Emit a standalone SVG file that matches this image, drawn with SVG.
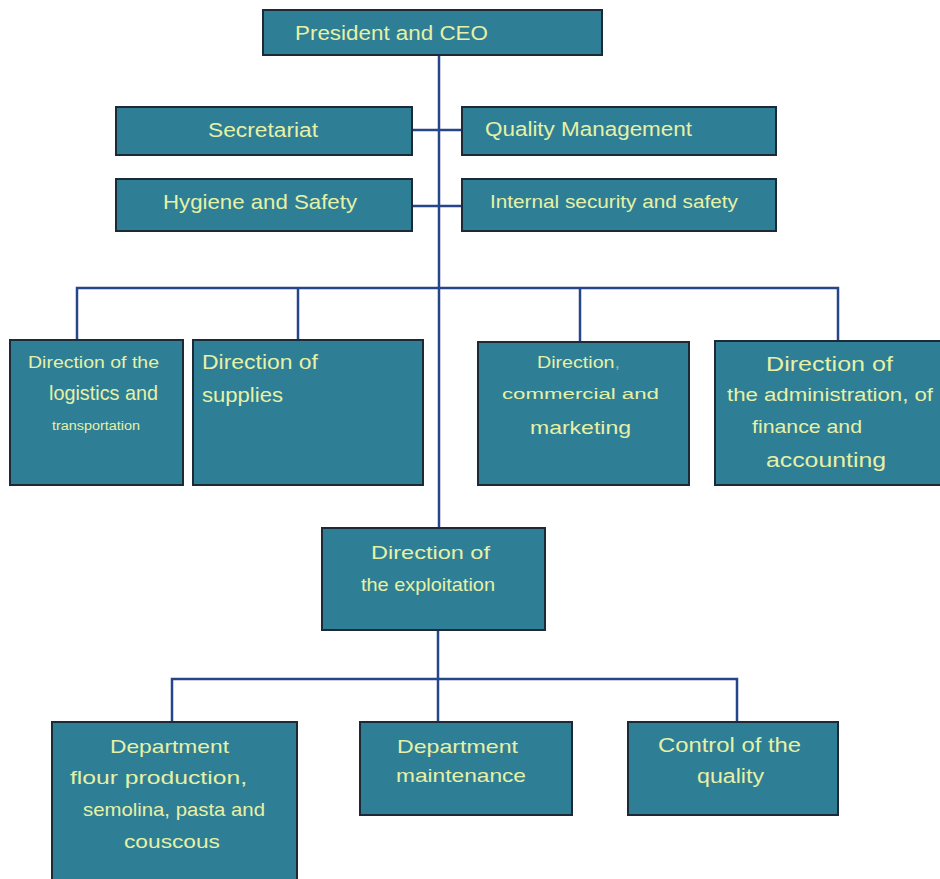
<svg xmlns="http://www.w3.org/2000/svg" width="940" height="879" viewBox="0 0 940 879">
  <style>
    .box { fill: #2e7e96; stroke: #1c2a38; stroke-width: 2; }
    .lbl { font-family: "Liberation Sans", Arial, sans-serif; fill: #e6f1a6; }
    .link { fill: none; stroke: #26468a; stroke-width: 2.5; }
  </style>
  <rect width="940" height="879" fill="#ffffff"/>

  <!-- connectors -->
  <g id="connectors">
    <path class="link" d="M439 55 V528"/>
    <path class="link" d="M412 130 H462"/>
    <path class="link" d="M412 206 H462"/>
    <path class="link" d="M77 340 V288 H838 V341"/>
    <path class="link" d="M298 288 V340"/>
    <path class="link" d="M580 288 V342"/>
    <path class="link" d="M438 630 V722"/>
    <path class="link" d="M172 722 V679 H737 V722"/>
  </g>

  <g id="ceo">
    <rect class="box" x="263" y="10" width="339" height="45"/>
    <text class="lbl" x="295" y="40" font-size="20" textLength="193" lengthAdjust="spacingAndGlyphs">President and CEO</text>
  </g>

  <g id="secretariat">
    <rect class="box" x="116" y="107" width="296" height="48"/>
    <text class="lbl" x="208" y="137" font-size="20" textLength="110" lengthAdjust="spacingAndGlyphs">Secretariat</text>
  </g>

  <g id="quality-management">
    <rect class="box" x="462" y="107" width="314" height="48"/>
    <text class="lbl" x="485" y="136" font-size="20" textLength="207" lengthAdjust="spacingAndGlyphs">Quality Management</text>
  </g>

  <g id="hygiene-safety">
    <rect class="box" x="116" y="179" width="296" height="52"/>
    <text class="lbl" x="163" y="209" font-size="21" textLength="194" lengthAdjust="spacingAndGlyphs">Hygiene and Safety</text>
  </g>

  <g id="internal-security">
    <rect class="box" x="462" y="179" width="314" height="52"/>
    <text class="lbl" x="490" y="208" font-size="18" textLength="248" lengthAdjust="spacingAndGlyphs">Internal security and safety</text>
  </g>

  <g id="dir-logistics">
    <rect class="box" x="10" y="340" width="173" height="145"/>
    <text class="lbl" x="28" y="368" font-size="17" textLength="131" lengthAdjust="spacingAndGlyphs">Direction of the</text>
    <text class="lbl" x="49" y="400" font-size="21" textLength="109" lengthAdjust="spacingAndGlyphs">logistics and</text>
    <text class="lbl" x="52" y="430" font-size="12" textLength="88" lengthAdjust="spacingAndGlyphs">transportation</text>
  </g>

  <g id="dir-supplies">
    <rect class="box" x="193" y="340" width="230" height="145"/>
    <text class="lbl" x="202" y="369" font-size="20" textLength="116" lengthAdjust="spacingAndGlyphs">Direction of</text>
    <text class="lbl" x="202" y="402" font-size="20" textLength="81" lengthAdjust="spacingAndGlyphs">supplies</text>
  </g>

  <g id="dir-commercial">
    <rect class="box" x="478" y="342" width="211" height="143"/>
    <text class="lbl" x="537" y="368" font-size="16" textLength="83" lengthAdjust="spacingAndGlyphs">Direction<tspan fill="#9fb6a0">,</tspan></text>
    <text class="lbl" x="502" y="399" font-size="14" textLength="157" lengthAdjust="spacingAndGlyphs">commercial and</text>
    <text class="lbl" x="530" y="434" font-size="19" textLength="101" lengthAdjust="spacingAndGlyphs">marketing</text>
  </g>

  <g id="dir-administration">
    <rect class="box" x="715" y="341" width="226" height="144"/>
    <text class="lbl" x="766" y="371" font-size="21" textLength="127" lengthAdjust="spacingAndGlyphs">Direction of</text>
    <text class="lbl" x="727" y="401" font-size="18" textLength="206" lengthAdjust="spacingAndGlyphs">the administration, of</text>
    <text class="lbl" x="752" y="433" font-size="19" textLength="110" lengthAdjust="spacingAndGlyphs">finance and</text>
    <text class="lbl" x="766" y="467" font-size="20" textLength="120" lengthAdjust="spacingAndGlyphs">accounting</text>
  </g>

  <g id="dir-exploitation">
    <rect class="box" x="322" y="528" width="223" height="102"/>
    <text class="lbl" x="371" y="559" font-size="19" textLength="119" lengthAdjust="spacingAndGlyphs">Direction of</text>
    <text class="lbl" x="361" y="591" font-size="19" textLength="134" lengthAdjust="spacingAndGlyphs">the exploitation</text>
  </g>

  <g id="dept-flour">
    <rect class="box" x="52" y="722" width="245" height="162"/>
    <text class="lbl" x="110" y="753" font-size="19" textLength="119" lengthAdjust="spacingAndGlyphs">Department</text>
    <text class="lbl" x="70" y="784" font-size="19" textLength="177" lengthAdjust="spacingAndGlyphs">flour production,</text>
    <text class="lbl" x="83" y="816" font-size="19" textLength="182" lengthAdjust="spacingAndGlyphs">semolina, pasta and</text>
    <text class="lbl" x="124" y="848" font-size="19" textLength="96" lengthAdjust="spacingAndGlyphs">couscous</text>
  </g>

  <g id="dept-maintenance">
    <rect class="box" x="360" y="722" width="212" height="93"/>
    <text class="lbl" x="397" y="753" font-size="19" textLength="121" lengthAdjust="spacingAndGlyphs">Department</text>
    <text class="lbl" x="396" y="782" font-size="19" textLength="130" lengthAdjust="spacingAndGlyphs">maintenance</text>
  </g>

  <g id="quality-control">
    <rect class="box" x="628" y="722" width="210" height="93"/>
    <text class="lbl" x="658" y="752" font-size="20" textLength="143" lengthAdjust="spacingAndGlyphs">Control of the</text>
    <text class="lbl" x="697" y="783" font-size="20" textLength="67" lengthAdjust="spacingAndGlyphs">quality</text>
  </g>
</svg>
